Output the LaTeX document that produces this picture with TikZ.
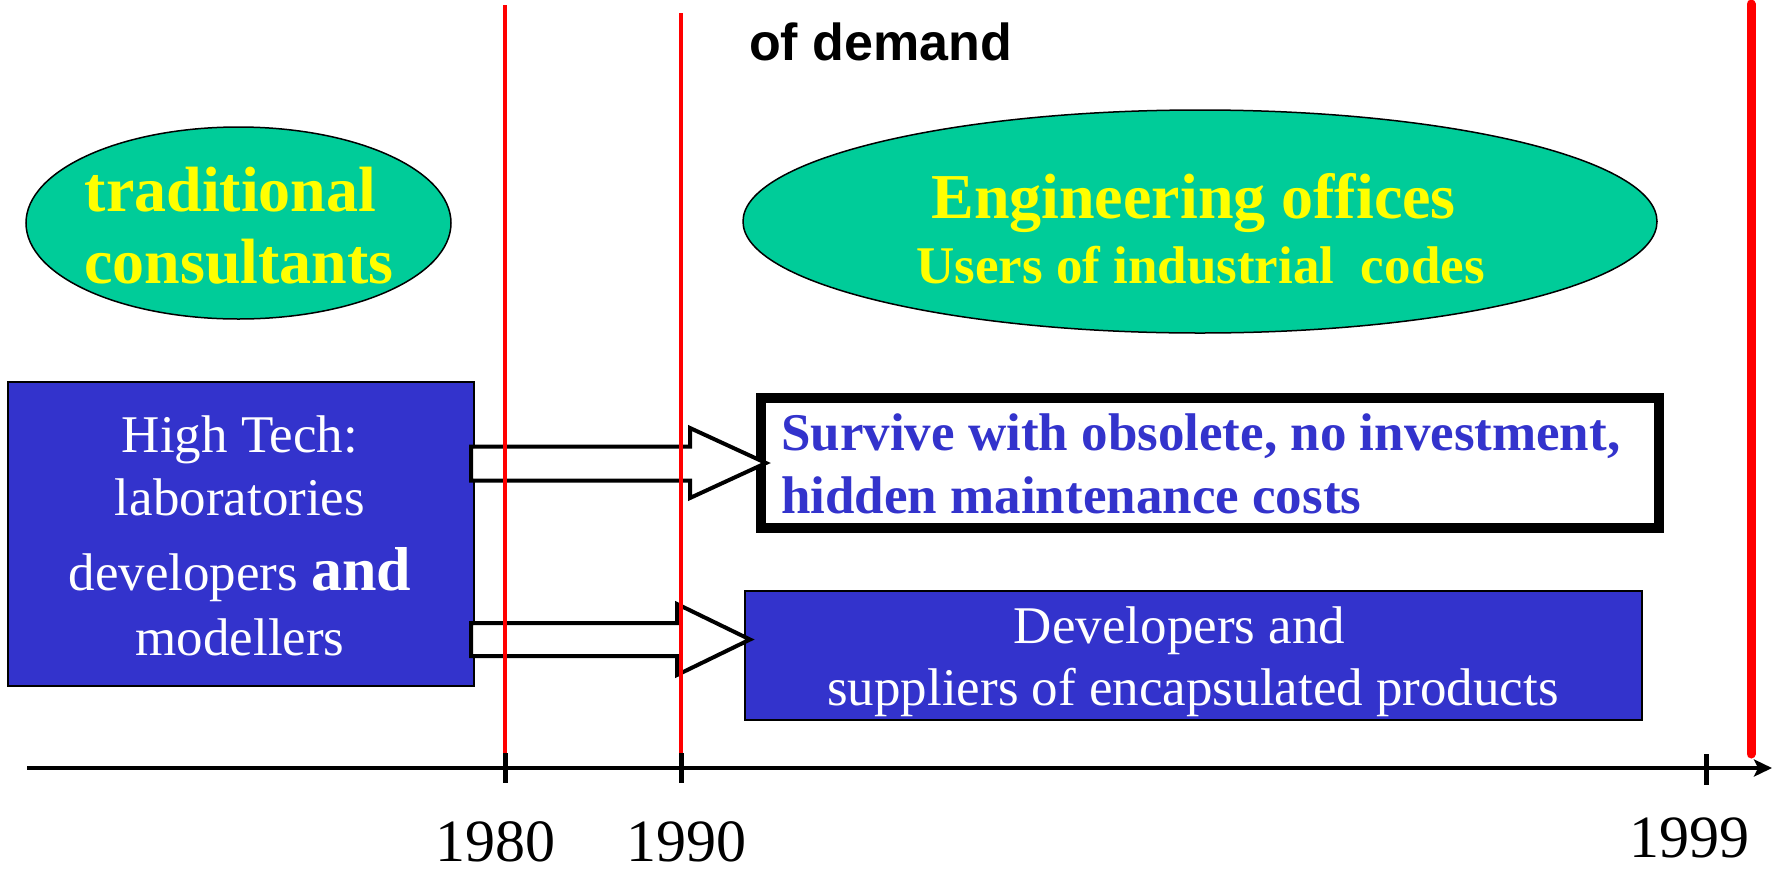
\documentclass[tikz,border=0pt]{standalone}
\usepackage{fontspec}
\setmainfont{Liberation Serif}
\newfontfamily\arialfont{Liberation Sans}
\usetikzlibrary{shapes.geometric,arrows.meta}
\definecolor{tealg}{HTML}{00CC99}
\definecolor{boxblue}{HTML}{3333CC}
\definecolor{ylw}{HTML}{FFFF00}
\definecolor{redl}{HTML}{FF0000}
\newcommand\fsz[1]{\fontsize{#1}{#1}\selectfont}
\begin{document}
\begin{tikzpicture}[x=1pt,y=-1pt,
  ell/.style={ellipse, draw=black, line width=1.5pt, fill=tealg, inner sep=0pt},
  ylwbig/.style={text=ylw, font=\bfseries\fsz{64}, anchor=base, inner sep=0pt},
  ylwmid/.style={text=ylw, font=\bfseries\fsz{53}, anchor=base, inner sep=0pt},
  bluebox/.style={draw=black, line width=2pt, fill=boxblue, inner sep=0pt},
  whitetxt/.style={text=white, font=\fsz{53}, anchor=base, inner sep=0pt},
  survtxt/.style={text=boxblue, font=\bfseries\fsz{53}, anchor=base west, inner sep=0pt},
  blockarr/.style={draw=black, line width=4pt, fill=white, line join=miter},
  redline/.style={draw=redl, line width=4pt},
  tickmark/.style={draw=black, line width=5pt},
  yearlbl/.style={font=\fsz{60}, anchor=base, inner sep=0pt}
]
\fill[white] (0,0) rectangle (1774,876);
\useasboundingbox (0,0) rectangle (1774,876);

% title fragment
\node[font=\arialfont\bfseries\fsz{52}, anchor=base west, inner sep=0pt] (dem) at (749,60) {of demand};

% ellipses
\node[ell, minimum width=425pt, minimum height=192pt] (tc) at (238.5,223) {};
\node[ylwbig] (t1) at (230.5,211) {traditional};
\node[ylwbig] (t2) at (239,283) {consultants};
\node[ell, minimum width=914pt, minimum height=223pt] (eo) at (1200,221.5) {};
\node[ylwbig] (e1) at (1193.5,218) {Engineering offices};
\node[ylwmid] (e2) at (1200.5,283) {Users of industrial\ \ codes};

% left blue box
\node[bluebox, minimum width=466pt, minimum height=304pt] (ht) at (241,534) {};
\node[whitetxt] (h1) at (240,452) {High Tech:};
\node[whitetxt] (h2) at (240,515) {laboratories};
\node[whitetxt] (h3) at (240,590) {developers {\bfseries\fsz{62}and}};
\node[whitetxt] (h4) at (240,655) {modellers};

% right boxes
\node[draw=black, line width=10pt, fill=white, minimum width=898pt, minimum height=130pt, inner sep=0pt] (surv) at (1209.5,463) {};
\node[survtxt] (s1) at (781,450) {Survive with obsolete, no investment,};
\node[survtxt] (s2) at (781,513) {hidden maintenance costs};
\node[bluebox, minimum width=897pt, minimum height=129pt] (dev) at (1193.5,655.5) {};
\node[whitetxt] (d1) at (1179.5,643) {Developers and};
\node[whitetxt] (d2) at (1193,705) {suppliers of encapsulated products};

% hollow block arrows
\draw[blockarr] (471,446.5) -- (690,446.5) -- (690,428) -- (766,463) -- (690,498) -- (690,480.5) -- (471,480.5) -- cycle;
\draw[blockarr] (471,623) -- (677,623) -- (677,604) -- (750,639.5) -- (677,675) -- (677,656) -- (471,656) -- cycle;

% red year lines
\coordinate (r1t) at (505,5);   \coordinate (r1b) at (505,753);
\coordinate (r2t) at (681,13);  \coordinate (r2b) at (681,761);
\coordinate (r3t) at (1751,4);  \coordinate (r3b) at (1751,754);
\draw[redline] (r1t) -- (r1b);
\draw[redline] (r2t) -- (r2b);
\draw[redline, line width=9pt, line cap=round] (r3t) -- (r3b);

% axis
\coordinate (axs) at (27,768);
\coordinate (axe) at (1772,768);
\draw[line width=4.5pt, -{Stealth[length=18pt,width=17pt,inset=4pt]}] (axs) -- (axe);
\coordinate (k1t) at (505,753); \coordinate (k1b) at (505,783);
\coordinate (k2t) at (681,753); \coordinate (k2b) at (681,783);
\coordinate (k3t) at (1706,754); \coordinate (k3b) at (1706,785);
\draw[tickmark] (k1t) -- (k1b);
\draw[tickmark] (k2t) -- (k2b);
\draw[tickmark] (k3t) -- (k3b);

\node[yearlbl] (y1) at (495,861) {1980};
\node[yearlbl] (y2) at (686.5,861) {1990};
\node[yearlbl] (y3) at (1689.5,857) {1999};
\end{tikzpicture}
\end{document}
